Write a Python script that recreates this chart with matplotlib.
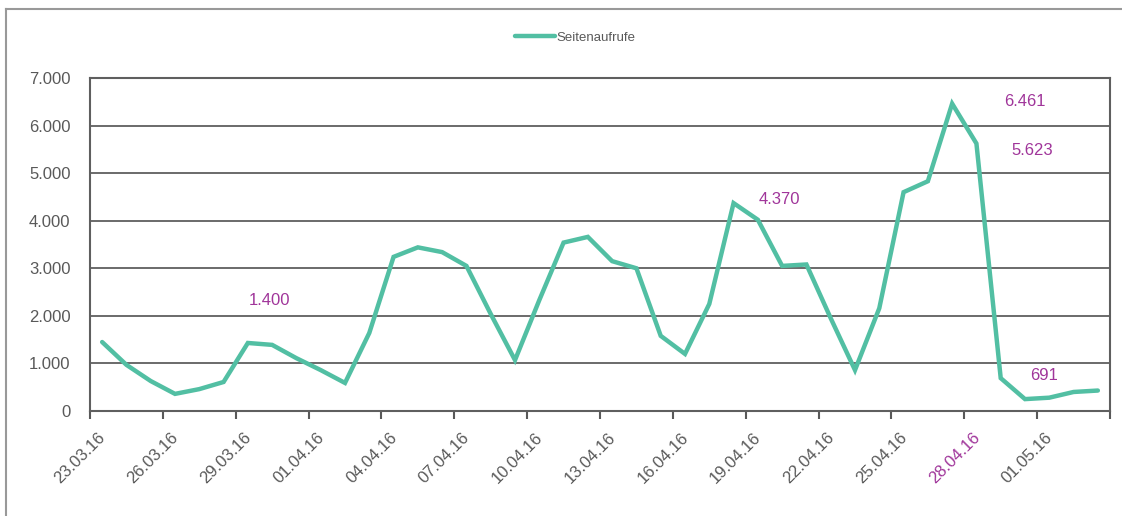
import matplotlib
matplotlib.use("Agg")
import matplotlib.pyplot as plt
from matplotlib.lines import Line2D
from matplotlib.transforms import ScaledTranslation

plt.rcParams['font.family'] = ['Liberation Sans', 'DejaVu Sans']

# daily page views, 23.03.16 - 03.05.16
views = [1450, 970, 630, 360, 460, 610, 1430, 1390, 1110, 860,
         590, 1640, 3240, 3440, 3340, 3050, 2040, 1070, 2330, 3540,
         3660, 3150, 3000, 1580, 1200, 2250, 4370, 4020, 3050, 3080,
         1950, 860, 2160, 4600, 4830, 6461, 5623, 691, 250, 280,
         400, 430]
tick_labels = ['23.03.16', '26.03.16', '29.03.16', '01.04.16', '04.04.16',
               '07.04.16', '10.04.16', '13.04.16', '16.04.16', '19.04.16',
               '22.04.16', '25.04.16', '28.04.16', '01.05.16', '']
highlight_label = '28.04.16'

# annotations: text, category position, value position
notes = ['1.400', '4.370', '6.461', '5.623', '691']
note_x = [7.4, 28.4, 38.5, 38.8, 39.3]
note_y = [2330, 4440, 6500, 5470, 740]

line_color = '#52bfa3'
purple = '#a0359a'
grey = '#595959'

fig = plt.figure(figsize=(11.22, 5.16), dpi=100)
ax = fig.add_axes([90 / 1122, 105 / 516, 1020 / 1122, 333 / 516])

xs = [i + 0.5 for i in range(len(views))]
ax.plot(xs, views, color=line_color, lw=3.2, solid_joinstyle='miter',
        solid_capstyle='round', label='Seitenaufrufe', zorder=3)

ax.set_xlim(0, len(views))
ax.set_ylim(0, 7000)
ax.set_yticks(range(0, 7001, 1000))
ax.set_yticklabels(['0' if v == 0 else f'{v // 1000}.000' for v in range(0, 7001, 1000)])
ax.yaxis.grid(True, color='#5f5f5f', lw=1.3)
ax.set_axisbelow(True)
ax.tick_params(axis='y', length=0, pad=14, labelsize=12, labelcolor=grey)

ax.set_xticks(range(0, len(views) + 1, 3))
ax.set_xticklabels(tick_labels, rotation=45, ha='right', va='center',
                   rotation_mode='anchor')
ax.tick_params(axis='x', length=6, width=1.5, color=grey, pad=4,
               labelsize=12, labelcolor=grey)
for lab in ax.get_xticklabels():
    lab.set_transform(lab.get_transform() + ScaledTranslation(0.13, -0.1, fig.dpi_scale_trans))
    if lab.get_text() == highlight_label:
        lab.set_color(purple)

for s in ax.spines.values():
    s.set_color('#5f5f5f')
    s.set_linewidth(1.5)

for t, x, y in zip(notes, note_x, note_y):
    ax.text(x, y, t, color=purple, fontsize=12, ha='center', va='center')

ax.legend(loc='center', bbox_to_anchor=(575 / 1122, 1 - 38 / 516),
          bbox_transform=fig.transFigure, frameon=False, fontsize=9.5,
          handlelength=3.0, handletextpad=0.1, labelcolor=grey)

# outer frame (top and left edges)
fig.add_artist(Line2D([6 / 1122, 1], [1 - 9 / 516, 1 - 9 / 516],
                      transform=fig.transFigure, color='#999999', lw=1.5))
fig.add_artist(Line2D([6 / 1122, 6 / 1122], [0, 1 - 9 / 516],
                      transform=fig.transFigure, color='#999999', lw=1.5))

fig.savefig('out.png', dpi=100)
